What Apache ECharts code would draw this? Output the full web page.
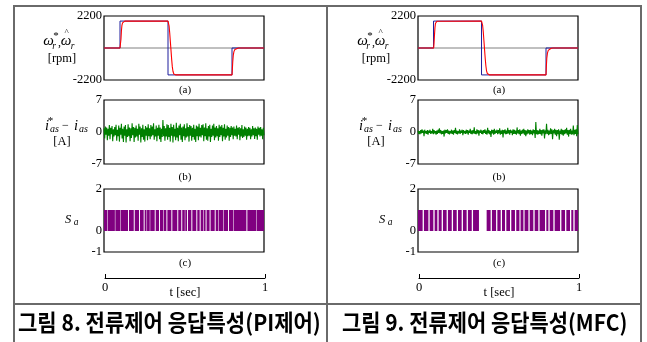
<!DOCTYPE html>
<html><head><meta charset="utf-8">
<script src="https://cdn.jsdelivr.net/npm/echarts@6/dist/echarts.min.js"></script>
<style>html,body{margin:0;padding:0;background:#fff}#c{width:647px;height:342px}</style>
</head><body><div id="c"></div>
<script>
// ---------- DATA ----------
const timeTickLabels = ['0', '1'];
const timeAxisTitle = 't [sec]';
const speedTicks = [-2200, 2200];
const currentTicks = [-7, 0, 7];
const switchTicks = [-1, 0, 2];
const captions = ['그림 8. 전류제어 응답특성(PI제어)', '그림 9. 전류제어 응답특성(MFC)'];

const zeroLine = [[0, 0], [1, 0]];

const speedRefPI = [[0,0],[0.1,0],[0.1,1850],[0.4,1850],[0.4,-1850],[0.8,-1850],[0.8,0],[1,0]];
const speedEstPI = [[0,0],[0.1,0],[0.103,100],[0.106,600],[0.109,1200],[0.112,1550],[0.116,1730],[0.122,1810],[0.13,1845],[0.14,1850],
  [0.4,1850],[0.403,1780],[0.407,1500],[0.411,1000],[0.415,400],[0.419,-200],[0.423,-800],[0.427,-1300],[0.431,-1600],[0.436,-1780],[0.442,-1835],[0.45,-1850],
  [0.8,-1850],[0.802,-1500],[0.805,-900],[0.808,-500],[0.812,-250],[0.818,-100],[0.828,-30],[0.84,0],[1,0]];

const speedRefMFC = [[0,0],[0.097,0],[0.097,1850],[0.397,1850],[0.397,-1850],[0.8,-1850],[0.8,0],[1,0]];
const speedEstMFC = [[0,0],[0.098,0],[0.1,300],[0.103,900],[0.106,1400],[0.109,1680],[0.113,1800],[0.118,1840],[0.128,1850],
  [0.397,1850],[0.4,1800],[0.404,1550],[0.408,1100],[0.412,500],[0.416,-100],[0.42,-700],[0.424,-1200],[0.428,-1550],[0.433,-1750],[0.44,-1830],[0.448,-1850],
  [0.8,-1850],[0.802,-1300],[0.805,-700],[0.809,-350],[0.814,-160],[0.822,-60],[0.832,-15],[0.845,0],[1,0]];

const currErrPI = [
  0.8,-1.4,1.2,-0.6,1.0,-1.8,0.7,-0.8,1.5,-1.6,0.9,-0.5,1.3,-2.0,0.6,-1.0,1.1,-0.7,1.6,-1.9,0.5,-0.9,1.4,-2.1,
  0.9,-0.6,1.8,-1.4,0.7,-2.2,1.2,-0.8,1.5,-2.3,0.6,-1.1,1.7,-0.9,1.0,-2.0,0.8,-1.3,1.9,-0.7,1.1,-2.2,0.9,-1.2,
  1.4,-1.0,0.7,-1.9,1.8,-0.6,1.2,-2.3,0.8,-1.1,1.6,-1.7,0.6,-2.1,1.3,-0.8,1.0,-1.8,1.7,-0.9,0.8,-1.6,1.5,-1.0,
  1.2,-0.7,1.9,-1.7,0.6,-1.0,1.4,-2.0,0.9,-0.8,1.6,-1.6,1.0,-2.2,0.7,-1.1,2.6,-0.9,1.3,-1.9,0.8,-1.0,1.7,-1.7,
  1.5,-1.1,0.9,-2.1,1.8,-0.8,1.1,-2.3,1.6,-1.0,0.7,-1.8,2.0,-1.2,0.9,-2.0,1.4,-0.7,1.8,-1.7,1.0,-2.2,1.2,-0.9,
  1.7,-1.8,0.8,-1.2,1.9,-1.0,1.1,-2.1,1.5,-0.8,1.3,-1.9,0.9,-1.1,1.6,-1.7,0.7,-2.2,1.4,-0.9,1.2,-1.8,1.8,-1.0,
  0.9,-1.2,1.5,-0.7,1.7,-2.0,1.0,-0.9,1.9,-1.7,0.8,-1.9,1.3,-1.0,1.6,-2.2,0.7,-1.1,1.4,-0.8,1.8,-1.8,1.0,-1.2,
  1.3,-0.9,0.8,-1.9,1.6,-1.1,1.2,-0.7,1.5,-2.0,0.9,-1.0,1.7,-1.7,0.7,-1.2,1.4,-0.8,1.1,-1.9,0.9,-1.1,1.3,-0.7,
  1.0,-1.6,1.2,-0.8,0.7,-1.0,1.4,-1.6,0.9,-0.6,1.1,-1.8,0.8,-1.0,1.5,-1.3,0.6,-1.1,1.2,-0.8,1.0,-1.7,0.7,-0.9,
  1.1,-0.8,0.9,-1.6,0.6,-1.0,1.3,-0.7,0.8,-1.5,1.0,-0.9,0.7,-1.7,1.2,-0.6,0.9,-1.0,1.1,-0.8,0.6,-1.6,0.9,-0.7
];

const currErrMFC = [
  0.3,-0.4,0.2,-0.5,0.4,-0.3,0.6,-0.2,0.3,-0.9,0.5,-0.3,0.2,-0.4,0.4,-0.6,0.3,-0.2,0.5,-0.4,0.2,-0.3,0.7,-0.5,
  0.4,-0.3,0.2,-0.6,0.3,-0.4,0.5,-0.2,0.8,-0.3,0.4,-0.5,0.2,-0.4,0.3,-1.0,0.5,-0.3,0.4,-0.2,0.6,-0.4,0.3,-0.5,
  0.2,-0.3,0.5,-0.4,0.3,-0.6,0.4,-0.2,0.9,-0.4,0.3,-0.5,0.2,-0.3,0.6,-0.4,0.3,-0.2,0.5,-0.7,0.4,-0.3,0.2,-0.4,
  0.5,-0.3,0.4,-0.6,0.3,-0.2,0.7,-0.4,0.3,-0.5,0.4,-0.3,1.0,-0.4,0.2,-0.5,0.6,-0.3,0.4,-0.8,0.3,-0.2,0.5,-0.4,
  0.3,-0.5,0.4,-0.2,0.6,-0.4,0.3,-0.6,0.9,-0.3,0.4,-0.5,0.2,-1.1,0.5,-0.3,0.4,-0.6,0.7,-0.4,0.3,-0.2,0.5,-0.5,
  0.4,-0.3,0.8,-0.6,0.3,-0.4,0.5,-1.2,0.4,-0.3,0.6,-0.5,0.3,-0.4,0.9,-0.3,0.4,-0.6,0.5,-0.2,0.3,-0.7,0.6,-0.4,
  0.5,-0.4,0.3,-0.6,1.0,-0.3,0.4,-0.5,0.6,-0.8,0.3,-0.4,0.5,-0.3,0.7,-0.6,0.4,-0.9,0.3,-0.5,0.6,-0.3,0.4,-0.6,
  0.5,-0.4,0.3,-0.7,0.6,-0.3,0.4,-1.3,2.2,-0.5,0.4,-0.6,0.3,-0.4,0.7,-0.5,0.4,-0.8,0.5,-0.3,0.6,-1.4,0.4,-0.5,
  1.8,-0.4,0.5,-0.7,0.3,-0.5,0.8,-0.4,0.6,-1.6,0.4,-0.3,0.7,-0.6,0.5,-0.9,0.4,-0.5,0.6,-1.7,0.3,-0.4,0.7,-0.6,
  0.5,-0.8,0.4,-0.5,0.6,-0.3,0.9,-0.6,0.4,-1.0,0.5,-0.4,0.7,-0.6,0.3,-0.5,1.4,-0.7,0.5,-0.4,0.6,-0.9,1.5,-0.5
];

// switching-off gaps [start, end] in seconds (Sa = 0 inside)
const gapsPI = [
  [0.020,0.023],[0.068,0.071],[0.103,0.106],[0.150,0.156],[0.186,0.192],[0.219,0.225],[0.248,0.254],[0.266,0.269],[0.286,0.289],
  [0.317,0.323],[0.344,0.350],[0.370,0.373],[0.390,0.396],[0.421,0.427],[0.458,0.464],[0.483,0.489],[0.505,0.508],[0.519,0.525],
  [0.546,0.552],[0.577,0.583],[0.598,0.604],[0.620,0.623],[0.635,0.641],[0.660,0.666],[0.692,0.698],[0.714,0.717],[0.745,0.748],
  [0.775,0.781],[0.807,0.810],[0.890,0.896],[0.953,0.956]
];
const gapsMFC = [
  [0.029,0.037],[0.065,0.073],[0.096,0.104],[0.121,0.129],[0.148,0.156],[0.179,0.187],[0.211,0.219],[0.242,0.250],[0.273,0.281],
  [0.304,0.312],[0.336,0.344],[0.381,0.429],[0.454,0.462],[0.488,0.496],[0.517,0.525],[0.544,0.552],[0.575,0.583],[0.606,0.614],
  [0.634,0.641],[0.659,0.666],[0.690,0.698],[0.721,0.729],[0.752,0.760],[0.794,0.802],[0.815,0.823],[0.846,0.854],[0.888,0.896],
  [0.919,0.927],[0.950,0.958],[0.971,0.979]
];

// ---------- BUILD ----------
function toSeries(arr) { return arr.map((v, i) => [i / (arr.length - 1), v]); }
function onIntervals(gaps) {
  const d = [];
  let s = 0;
  gaps.forEach(g => { d.push([s, g[0]]); s = g[1]; });
  d.push([s, 1]);
  return d;
}

const SERIF = '"Liberation Serif","DejaVu Serif",serif';
const panels = [
  { dx: 0, ref: speedRefPI, est: speedEstPI, err: currErrPI, gaps: gapsPI },
  { dx: 314, ref: speedRefMFC, est: speedEstMFC, err: currErrMFC, gaps: gapsMFC }
];

const grid = [], xAxis = [], yAxis = [], series = [], graphic = [];
function lbl(text, x, y, size, opts) {
  opts = opts || {};
  graphic.push({ type: 'text', silent: true, z: 100, style: {
    text: text, x: x, y: y,
    font: (opts.italic ? 'italic ' : '') + (opts.bold ? 'bold ' : '') + size + 'px ' + (opts.family || SERIF),
    fill: opts.color || '#000', textAlign: opts.align || 'center', textVerticalAlign: 'middle',
    align: opts.align || 'center', verticalAlign: 'middle'
  }});
}
const axisLabelStyle = { color: '#000', fontFamily: SERIF, fontSize: 12.5, margin: 2 };

panels.forEach((p, pi) => {
  const L = 104 + p.dx;
  const defs = [
    { top: 16, h: 64, min: -2200, max: 2200, interval: 4400, ticks: speedTicks },
    { top: 100, h: 64, min: -7, max: 7, interval: 7, ticks: currentTicks },
    { top: 189, h: 63, min: -1, max: 2, interval: 1, ticks: switchTicks }
  ];
  defs.forEach(d => {
    const gi = grid.length;
    grid.push({ left: L, top: d.top, width: 160, height: d.h, show: true, borderColor: '#000', borderWidth: 1.2, backgroundColor: 'transparent' });
    xAxis.push({ gridIndex: gi, type: 'value', min: 0, max: 1, show: false });
    yAxis.push({ gridIndex: gi, type: 'value', min: d.min, max: d.max, interval: d.interval,
      axisLine: { show: false }, axisTick: { show: false }, splitLine: { show: false },
      axisLabel: Object.assign({}, axisLabelStyle, { formatter: v => d.ticks.indexOf(v) >= 0 ? String(v) : '' }) });
    d.gi = gi;
  });
  // (a) speed
  series.push({ type: 'line', xAxisIndex: defs[0].gi, yAxisIndex: defs[0].gi, data: zeroLine, showSymbol: false, silent: true,
    lineStyle: { color: '#808080', width: 1 }, z: 1 });
  series.push({ type: 'line', xAxisIndex: defs[0].gi, yAxisIndex: defs[0].gi, data: p.ref, showSymbol: false, silent: true,
    lineStyle: { color: '#1c1c9c', width: 1 }, z: 2 });
  series.push({ type: 'line', xAxisIndex: defs[0].gi, yAxisIndex: defs[0].gi, data: p.est, showSymbol: false, silent: true,
    lineStyle: { color: '#ff0000', width: 1.1 }, z: 3 });
  // (b) current error
  series.push({ type: 'line', xAxisIndex: defs[1].gi, yAxisIndex: defs[1].gi, data: toSeries(p.err), showSymbol: false, silent: true,
    lineStyle: { color: '#008000', width: 1.1 }, z: 2 });
  // (c) switching: Sa = 1 during on-intervals
  series.push({ type: 'custom', xAxisIndex: defs[2].gi, yAxisIndex: defs[2].gi, data: onIntervals(p.gaps), silent: true, z: 2,
    encode: { x: [0, 1] },
    renderItem: (params, api) => {
      const a = api.coord([api.value(0), 1]);
      const b = api.coord([api.value(1), 0]);
      return { type: 'rect', shape: { x: a[0], y: a[1], width: b[0] - a[0], height: b[1] - a[1] }, style: { fill: '#800080' } };
    } });
  // time axis
  const ti = grid.length;
  grid.push({ left: L + 1, top: 277, width: 160, height: 1, show: false });
  xAxis.push({ gridIndex: ti, type: 'value', min: 0, max: 1, interval: 1, position: 'bottom',
    axisLine: { show: true, lineStyle: { color: '#000', width: 1 } },
    axisTick: { show: true, inside: true, length: 4, lineStyle: { color: '#000' } },
    splitLine: { show: false },
    axisLabel: { color: '#000', fontFamily: SERIF, fontSize: 12.5, margin: 3, formatter: v => timeTickLabels[v] } });
  yAxis.push({ gridIndex: ti, type: 'value', min: 0, max: 1, show: false });

  const dx = p.dx;
  lbl(timeAxisTitle, 185 + dx, 293, 12.5);
  // sub-captions
  lbl('(a)', 185 + dx, 90, 11);
  lbl('(b)', 185 + dx, 177, 11);
  lbl('(c)', 185 + dx, 263, 11);
  // y label (a)
  lbl('ω', 48.5 + dx, 41, 15, { italic: true });
  lbl('*', 56 + dx, 36, 11);
  lbl('r', 54 + dx, 46.5, 9.5, { italic: true });
  lbl(',', 59.5 + dx, 43, 12);
  lbl('ω', 66 + dx, 41, 15, { italic: true });
  lbl('^', 66.5 + dx, 33, 9);
  lbl('r', 72.5 + dx, 46.5, 9.5, { italic: true });
  lbl('[rpm]', 62 + dx, 59, 12.5);
  // y label (b)
  lbl('i', 47 + dx, 126, 14.5, { italic: true });
  lbl('*', 50.5 + dx, 121, 11);
  lbl('as', 54.5 + dx, 129, 10, { italic: true });
  lbl('−', 65.5 + dx, 126, 12);
  lbl('i', 76 + dx, 126, 14.5, { italic: true });
  lbl('as', 83.5 + dx, 129, 10, { italic: true });
  lbl('[A]', 62 + dx, 142, 12.5);
  // y label (c)
  lbl('S', 68 + dx, 220, 12.5, { italic: true });
  lbl('a', 76 + dx, 222, 9.5, { italic: true });
});

// captions
graphic.push({ type: 'text', silent: true, z: 100, x: 18, y: 322, scaleX: 0.915, style: { text: captions[0], x: 0, y: 0,
  font: 'bold 23px "Noto Sans CJK KR"', fill: '#000', textAlign: 'left', textVerticalAlign: 'middle', align: 'left', verticalAlign: 'middle' } });
graphic.push({ type: 'text', silent: true, z: 100, x: 342, y: 322, scaleX: 0.91, style: { text: captions[1], x: 0, y: 0,
  font: 'bold 23px "Noto Sans CJK KR"', fill: '#000', textAlign: 'left', textVerticalAlign: 'middle', align: 'left', verticalAlign: 'middle' } });

// frame
const FR = '#6a6a6a';
[[13, 6, 642, 6], [14, 6, 14, 342], [641, 6, 641, 342], [327, 6, 327, 342], [13, 304, 642, 304]].forEach(l => {
  graphic.push({ type: 'line', silent: true, z: 90, shape: { x1: l[0], y1: l[1], x2: l[2], y2: l[3] }, style: { stroke: FR, lineWidth: 2 } });
});

const chart = echarts.init(document.getElementById('c'), null, { renderer: 'canvas' });
chart.setOption({ animation: false, backgroundColor: '#fff', grid, xAxis, yAxis, series, graphic });
</script></body></html>
